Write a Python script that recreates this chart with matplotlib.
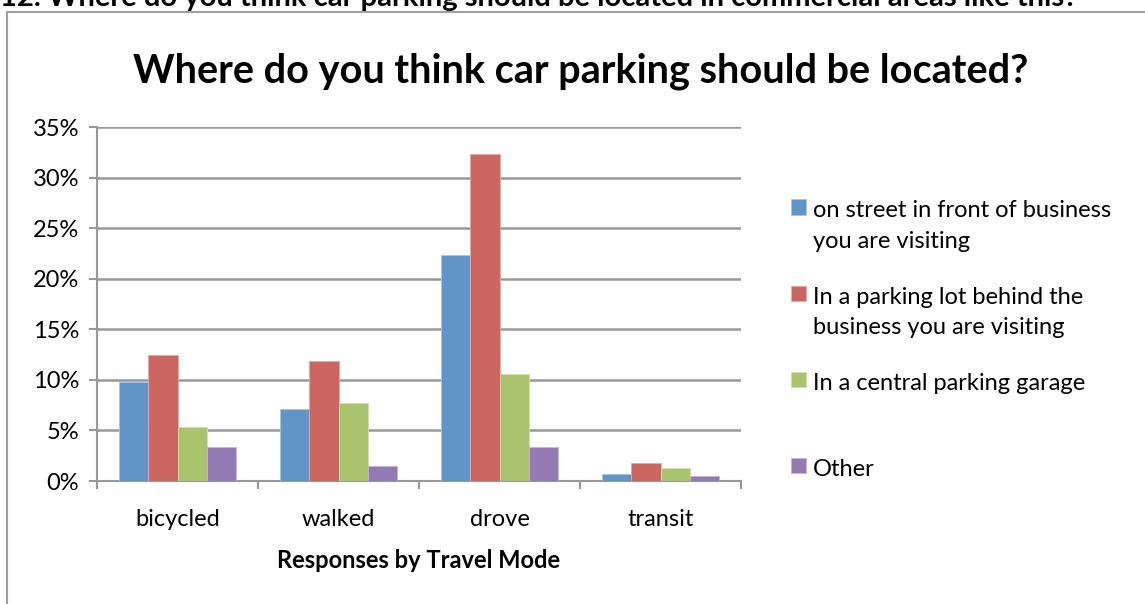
import numpy as np
import matplotlib
matplotlib.use('Agg')
import matplotlib.pyplot as plt
from matplotlib.patches import Rectangle

plt.rcParams['font.family'] = ['Lato', 'DejaVu Sans']

modes = ['bicycled', 'walked', 'drove', 'transit']
series = ['on street in front of business\nyou are visiting',
          'In a parking lot behind the\nbusiness you are visiting',
          'In a central parking garage',
          'Other']
on_street = [9.8, 7.1, 22.3, 0.7]
parking_lot = [12.5, 11.9, 32.3, 1.8]
garage = [5.3, 7.7, 10.6, 1.3]
other = [3.4, 1.5, 3.4, 0.5]
colors = ['#6194c9', '#cc6661', '#a9c46d', '#947ab2']
edges = ['#a9c4e4', '#e6a9a6', '#cfe0ad', '#c4b5d7']

W, H = 1145, 604
fs = 17
fig = plt.figure(figsize=(W / 100, H / 100), dpi=100)
ax = fig.add_axes([97 / W, 1 - 481 / H, (741 - 97) / W, (481 - 127) / H])

x = np.arange(len(modes))
w = 0.183
for i, vals in enumerate([on_street, parking_lot, garage, other]):
    # every legend entry takes two lines, like the Excel original
    lab = series[i] if '\n' in series[i] else series[i] + '\n'
    ax.bar(x + (i - 1.5) * w, vals, w, color=colors[i], edgecolor=edges[i],
           linewidth=0.6, label=lab, zorder=3)

ax.set_xlim(-0.5, len(modes) - 0.5)
ax.set_ylim(0, 35)
ax.set_yticks(np.arange(0, 36, 5))
ax.set_yticklabels([f'{v}%' for v in range(0, 36, 5)])
ax.set_xticks(np.arange(-0.5, len(modes), 1))
ax.set_xticklabels([])
ax.set_xticks(x, minor=True)
ax.set_xticklabels(modes, minor=True)
ax.tick_params(axis='x', which='minor', length=0, pad=20, labelsize=fs)
ax.tick_params(axis='x', which='major', length=6, width=1.5, color='#999999', direction='out')
ax.tick_params(axis='y', length=6, width=1.5, color='#999999', labelsize=fs, pad=7)
ax.yaxis.grid(True, color='#999999', linewidth=1.8, zorder=0)
ax.set_axisbelow(True)
for s in ['top', 'right']:
    ax.spines[s].set_visible(False)
for s in ['left', 'bottom']:
    ax.spines[s].set_color('#999999')
    ax.spines[s].set_linewidth(1.5)

ax.set_xlabel('Responses by Travel Mode', fontsize=fs, fontweight='bold', labelpad=14)

fig.text(581 / W, 1 - 82 / H, 'Where do you think car parking should be located?',
         ha='center', va='baseline', fontsize=28.5, fontweight='bold')
fig.text(0, 1 - 6 / H,
         '12. Where do you think car parking should be located in commercial areas like this?',
         ha='left', va='baseline', fontsize=21, fontweight='bold')

fig.add_artist(Rectangle((7 / W, -0.05), 1.1, 1.05 - 12 / H, transform=fig.transFigure,
                         fill=False, edgecolor='#a0a0a0', linewidth=1.5))

leg = ax.legend(loc='upper left', bbox_to_anchor=(782 / W, 1 - 191 / H),
                bbox_transform=fig.transFigure, frameon=False, fontsize=fs,
                handlelength=0.62, handleheight=0.62, handletextpad=0.3,
                labelspacing=1.45, borderaxespad=0)
for t in leg.get_texts():
    t.set_linespacing(1.58)
# lift the colour boxes to the first text line
for h in leg.legend_handles:
    h.set_y(h.get_y() + 14)

fig.savefig('out.png', dpi=100)
